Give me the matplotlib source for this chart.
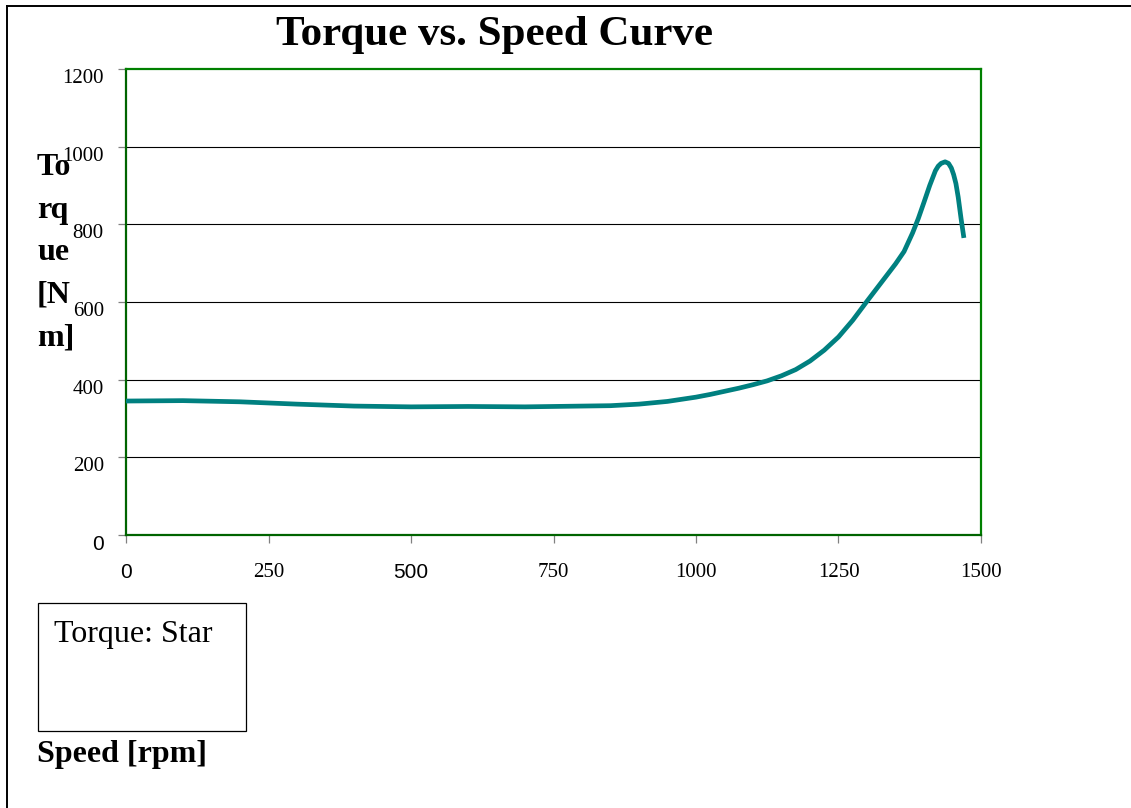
import matplotlib
matplotlib.use("Agg")
import matplotlib.pyplot as plt
from matplotlib.lines import Line2D
from matplotlib.patches import Rectangle

# ---- DATA ----
speed_rpm = [0, 100, 200, 300, 400, 500, 600, 700, 800, 850, 900, 950,
             1000, 1025, 1050, 1075, 1100, 1125, 1150, 1175, 1200, 1225,
             1250, 1275, 1300, 1325, 1350, 1365, 1380, 1390, 1400, 1410,
             1420, 1425, 1430, 1437, 1443, 1448, 1452, 1456, 1460, 1465,
             1470]
torque_nm = [345, 346, 343, 337, 332, 330, 331, 330, 332, 333, 337, 344,
             355, 362, 370, 378, 387, 397, 410, 426, 448, 476,
             510, 553, 602, 650, 698, 730, 778, 815, 857, 900,
             938, 950, 957, 961, 957, 945, 928, 905, 870, 815,
             765]

x_ticks = [0, 250, 500, 750, 1000, 1250, 1500]
y_ticks = [0, 200, 400, 600, 800, 1000, 1200]

SERIF = "Liberation Serif"
SANS = "Liberation Sans"

W, H = 1131, 808
fig = plt.figure(figsize=(W / 100, H / 100), dpi=100)
fig.patch.set_facecolor("white")

# ---- PLOT AREA ----
ax = fig.add_axes([126 / W, 1 - 535 / H, 855 / W, 466 / H])
ax.set_xlim(0, 1500)
ax.set_ylim(0, 1200)

for y in y_ticks[1:-1]:
    ax.axhline(y, color="black", lw=0.8, zorder=1)

ax.plot(speed_rpm, torque_nm, color="#008080", lw=3.4,
        solid_capstyle="butt", solid_joinstyle="round", zorder=3)

for side in ["top", "right"]:
    ax.spines[side].set_color("#008000")
    ax.spines[side].set_linewidth(1.6)
for side in ["left", "bottom"]:
    ax.spines[side].set_color("#006400")
    ax.spines[side].set_linewidth(1.6)

ax.set_xticks(x_ticks)
ax.set_yticks(y_ticks)
ax.tick_params(axis="both", direction="out", length=6, width=0.9,
               color="#808080")
ax.tick_params(axis="x", pad=14)
ax.tick_params(axis="y", pad=10)

ax.set_xticklabels([str(v) for v in x_ticks], fontsize=15, fontfamily=SERIF)
ax.set_yticklabels([str(v) for v in y_ticks], fontsize=15, fontfamily=SERIF,
                   va="top")
# a few labels come out in a sans face
for lab in [ax.get_xticklabels()[0], ax.get_xticklabels()[2],
            ax.get_yticklabels()[0]]:
    lab.set_fontfamily(SANS)

# ---- TEXT ----
fig.text(494 / W, 1 - 45 / H, "Torque vs. Speed Curve", ha="center",
         va="baseline", fontsize=31, fontweight="bold", fontfamily=SERIF)

fig.text(37 / W, 1 - 153 / H, "To\nrq\nue\n[N\nm]", ha="left", va="top",
         fontsize=23, fontweight="bold", fontfamily=SERIF, linespacing=1.62)

fig.text(37 / W, 1 - 762 / H, "Speed [rpm]", ha="left", va="baseline",
         fontsize=23, fontweight="bold", fontfamily=SERIF)

# legend box
fig.patches.append(Rectangle((38 / W, 1 - 731 / H), 208 / W, 128 / H,
                             transform=fig.transFigure, fill=False,
                             edgecolor="black", lw=0.9))
fig.text(54 / W, 1 - 642 / H, "Torque: Star", ha="left", va="baseline",
         fontsize=23, fontfamily=SERIF)

# outer frame (left and top edges)
fig.lines.append(Line2D([7 / W, 7 / W], [0, 1 - 6 / H],
                        transform=fig.transFigure, color="black", lw=1.4))
fig.lines.append(Line2D([7 / W, 1], [1 - 6 / H, 1 - 6 / H],
                        transform=fig.transFigure, color="black", lw=1.4))

fig.savefig("out.png", dpi=100)
